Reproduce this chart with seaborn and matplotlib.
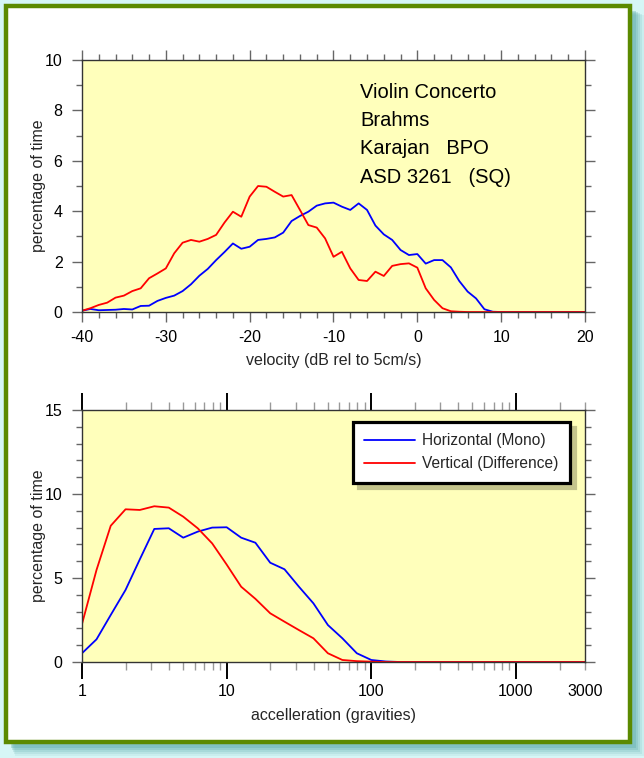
import numpy as np
import pandas as pd
import matplotlib
matplotlib.use("Agg")
import matplotlib.pyplot as plt
import matplotlib.patches as mpatches
from matplotlib.ticker import MultipleLocator, FixedLocator, FuncFormatter, NullFormatter
import seaborn as sns

# ---------------- data ----------------
velocity_db = list(range(-40, 21))
vel_horizontal = [0.05, 0.12, 0.07, 0.08, 0.09, 0.12, 0.10, 0.24, 0.25, 0.44,
                  0.56, 0.65, 0.83, 1.10, 1.44, 1.71, 2.06, 2.38, 2.72, 2.51,
                  2.59, 2.86, 2.90, 2.96, 3.15, 3.61, 3.81, 3.98, 4.22, 4.31,
                  4.34, 4.18, 4.05, 4.31, 4.05, 3.43, 3.08, 2.86, 2.46, 2.26,
                  2.30, 1.92, 2.06, 2.06, 1.77, 1.23, 0.81, 0.54, 0.11, 0.01,
                  0.0, 0.0, 0.0, 0.0, 0.0, 0.0, 0.0, 0.0, 0.0, 0.0, 0.0]
vel_vertical = [0.05, 0.15, 0.28, 0.37, 0.57, 0.65, 0.83, 0.94, 1.34, 1.53,
                1.73, 2.33, 2.75, 2.86, 2.79, 2.90, 3.06, 3.55, 3.98, 3.78,
                4.58, 5.00, 4.97, 4.77, 4.58, 4.64, 4.05, 3.45, 3.35, 2.92,
                2.19, 2.39, 1.73, 1.27, 1.23, 1.60, 1.43, 1.83, 1.90, 1.93,
                1.76, 0.94, 0.48, 0.15, 0.03, 0.01, 0.0, 0.0, 0.0, 0.0,
                0.0, 0.0, 0.0, 0.0, 0.0, 0.0, 0.0, 0.0, 0.0, 0.0, 0.0]

accel_g = [1, 1.26, 1.58, 2, 2.51, 3.16, 3.98, 5.01, 6.31, 7.94,
           10, 12.6, 15.8, 20, 25.1, 31.6, 39.8, 50.1, 63.1, 79.4,
           100, 126, 158, 200, 251, 316, 398, 501, 631, 794,
           1000, 1259, 1585, 1995, 2512, 3000]
acc_horizontal = [0.52, 1.35, 2.80, 4.29, 6.11, 7.92, 7.96, 7.40, 7.76, 8.00,
                  8.02, 7.40, 7.10, 5.91, 5.52, 4.48, 3.49, 2.20, 1.41, 0.52,
                  0.12, 0.03, 0.0, 0.0, 0.0, 0.0, 0.0, 0.0, 0.0, 0.0,
                  0.0, 0.0, 0.0, 0.0, 0.0, 0.0]
acc_vertical = [2.26, 5.48, 8.11, 9.09, 9.05, 9.27, 9.19, 8.65, 7.96, 7.06,
                5.80, 4.48, 3.76, 2.90, 2.40, 1.90, 1.41, 0.52, 0.12, 0.05,
                0.02, 0.0, 0.0, 0.0, 0.0, 0.0, 0.0, 0.0, 0.0, 0.0,
                0.0, 0.0, 0.0, 0.0, 0.0, 0.0]

series_names = ["Horizontal (Mono)", "Vertical (Difference)"]
series_colors = ["#0000ff", "#ff0000"]
info_lines = ["Violin Concerto", "Brahms", "Karajan   BPO", "ASD 3261   (SQ)"]

vel_df = pd.DataFrame({
    "x": velocity_db * 2,
    "y": vel_horizontal + vel_vertical,
    "series": [series_names[0]] * len(velocity_db) + [series_names[1]] * len(velocity_db),
})
acc_df = pd.DataFrame({
    "x": accel_g * 2,
    "y": acc_horizontal + acc_vertical,
    "series": [series_names[0]] * len(accel_g) + [series_names[1]] * len(accel_g),
})

# ---------------- style ----------------
sns.set_theme(style="ticks")
plt.rcParams["font.family"] = ["Liberation Sans", "DejaVu Sans"]
plt.rcParams["font.size"] = 11

W, H = 644, 758
fig = plt.figure(figsize=(W / 100, H / 100), dpi=100)
fig.patch.set_facecolor("#d6f6f6")

# shadow + framed white panel
def px_rect(x0, y0, x1, y1, **kw):
    return mpatches.Rectangle((x0 / W, 1 - y1 / H), (x1 - x0) / W, (y1 - y0) / H,
                              transform=fig.transFigure, **kw)

for i, a in enumerate([0.10, 0.14, 0.18, 0.24, 0.32]):
    d = 5 - i
    fig.patches.append(px_rect(10 + d, 10 + d, 634 + d * 2, 746 + d * 2,
                               facecolor="#5aa8a8", edgecolor="none", alpha=a, zorder=0))
fig.patches.append(px_rect(6, 6, 630, 742, facecolor="white", edgecolor="#5b8a00",
                           linewidth=3.2, zorder=1))

face = "#ffffbb"
spine_col = "#333333"
tick_col = "#666666"

ax1 = fig.add_axes([82 / W, 1 - 312 / H, 503 / W, 252 / H])
ax2 = fig.add_axes([82 / W, 1 - 662 / H, 503 / W, 252 / H])

for ax in (ax1, ax2):
    ax.set_facecolor(face)
    for s in ax.spines.values():
        s.set_visible(True)
        s.set_color(spine_col)
        s.set_linewidth(1.0)
    ax.set_zorder(2)

palette = dict(zip(series_names, series_colors))

# ---------------- top: velocity ----------------
sns.lineplot(data=vel_df, x="x", y="y", hue="series", palette=palette, ax=ax1,
             linewidth=1.3, legend=False, estimator=None, sort=False)
ax1.set_xlim(-40, 20)
ax1.set_ylim(0, 10)
ax1.xaxis.set_major_locator(MultipleLocator(10))
ax1.xaxis.set_minor_locator(MultipleLocator(2))
ax1.yaxis.set_major_locator(MultipleLocator(2))
ax1.yaxis.set_minor_locator(MultipleLocator(1))
ax1.tick_params(which="both", direction="out", top=True, right=True,
                colors=tick_col, labelcolor="black", labelsize=11.5, width=1.0)
ax1.tick_params(which="major", length=7)
ax1.tick_params(which="minor", length=4)
ax1.tick_params(axis="x", which="major", pad=6)
ax1.tick_params(axis="y", which="major", pad=7)
ax1.set_xlabel("velocity (dB rel to 5cm/s)", fontsize=11.5, labelpad=6)
ax1.set_ylabel("percentage of time", fontsize=11.5)
ax1.yaxis.set_label_coords(-0.072, 0.5)
ax1.xaxis.set_major_formatter(FuncFormatter(lambda v, p: f"{int(v)}"))

for i, line in enumerate(info_lines):
    ax1.text(-6.85, 8.73 - i * 1.125, line, fontsize=14.5, va="center", ha="left",
             color="black")

# ---------------- bottom: acceleration ----------------
sns.lineplot(data=acc_df, x="x", y="y", hue="series", palette=palette, ax=ax2,
             linewidth=1.3, estimator=None, sort=False)
ax2.set_xscale("log")
ax2.set_xlim(1, 3000)
ax2.set_ylim(0, 15)
ax2.xaxis.set_major_locator(FixedLocator([1, 10, 100, 1000]))
minor_x = [2, 3, 4, 5, 6, 7, 8, 9, 20, 30, 40, 50, 60, 70, 80, 90,
           200, 300, 400, 500, 600, 700, 800, 900, 2000, 3000]
ax2.xaxis.set_minor_locator(FixedLocator(minor_x))
ax2.xaxis.set_major_formatter(FuncFormatter(lambda v, p: f"{int(round(v))}"))
ax2.xaxis.set_minor_formatter(FuncFormatter(lambda v, p: "3000" if abs(v - 3000) < 1 else ""))
ax2.yaxis.set_major_locator(MultipleLocator(5))
ax2.yaxis.set_minor_locator(MultipleLocator(1))
ax2.tick_params(which="both", direction="out", top=True, right=True,
                labelcolor="black", labelsize=11.5, width=1.0)
ax2.tick_params(axis="y", which="both", colors=tick_col, labelcolor="black")
ax2.tick_params(axis="y", which="major", length=7, pad=7)
ax2.tick_params(axis="y", which="minor", length=4)
ax2.tick_params(axis="x", which="major", length=12, color="black", width=1.4, pad=4)
ax2.tick_params(axis="x", which="minor", length=6, color="#999999", pad=10)
ax2.set_xlabel("accelleration (gravities)", fontsize=11.5, labelpad=6)
ax2.set_ylabel("percentage of time", fontsize=11.5)
ax2.yaxis.set_label_coords(-0.072, 0.5)

leg = ax2.legend(handles=ax2.get_lines()[:2], labels=series_names,
                 loc="upper right", bbox_to_anchor=(0.970, 0.952),
                 fontsize=11.2, frameon=True, fancybox=False,
                 handlelength=3.3, handletextpad=0.45, borderpad=0.72,
                 labelspacing=0.52, borderaxespad=0,
                 shadow={"ox": 3.6, "oy": -3.6, "color": "#c4c48c", "alpha": 1.0})
leg.get_frame().set_edgecolor("black")
leg.get_frame().set_linewidth(2.3)
leg.get_frame().set_facecolor("white")
for h in leg.get_lines():
    h.set_linewidth(1.3)

fig.savefig("out.png", dpi=100, facecolor=fig.get_facecolor())
